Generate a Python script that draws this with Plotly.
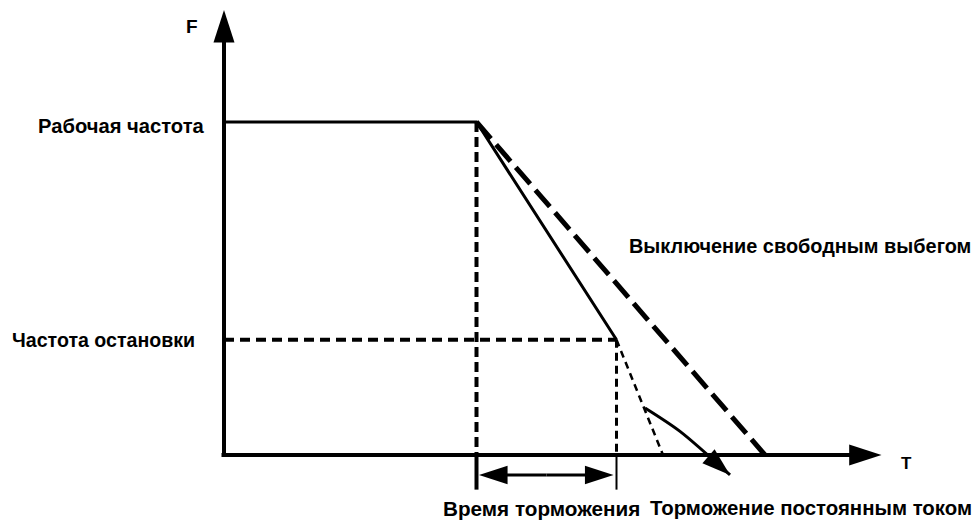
import plotly.graph_objects as go

# ---- data (schematic units: time t, frequency F) ----
F_run = 50.0          # Рабочая частота
F_stop = 17.3         # Частота остановки
t_brake = 10.1        # start of deceleration
t_stop = 15.7         # reaches stop frequency
t_coast_end = 21.64   # free-run coast reaches zero
t_extrap_end = 17.56  # extrapolated deceleration reaches zero
dc_t = [16.84, 18.24, 20.24]   # DC braking curve
dc_F = [7.06, 3.55, -3.0]
t_axis_end = 26.3
F_axis_end = 66.8
tick_below = -5.2
span_F = -3.0
span_t = [10.2, 12.9, 15.58]

labels_y = ["Рабочая частота", "Частота остановки"]
label_coast = "Выключение свободным выбегом"
label_brake_time = "Время торможения"
label_dc = "Торможение постоянным током"

FONT = "Liberation Sans, Arial, sans-serif"
BLACK = "#000000"

fig = go.Figure()

def line(x, y, width, dash="solid", arrow=None, spline=False):
    mk = dict(size=0, color=BLACK)
    mode = "lines"
    if arrow:
        mode = "lines+markers"
        n = len(x)
        mk = dict(symbol=["circle"] * (n - 1) + ["arrow"],
                  size=[0] * (n - 1) + [arrow],
                  angleref="previous", color=BLACK, opacity=1,
                  line=dict(width=0))
    fig.add_trace(go.Scatter(x=x, y=y, mode=mode,
                             line=dict(color=BLACK, width=width, dash=dash,
                                       shape="spline" if spline else "linear", smoothing=0.8),
                             marker=mk, hoverinfo="skip", showlegend=False))

# axes with arrows
line([0, 0], [-0.3, F_axis_end], 4, arrow=34)
line([-0.1, t_axis_end], [0, 0], 4, arrow=34)

# running profile
line([0, t_brake, t_stop], [F_run, F_run, F_stop], 3)

# guides
line([t_brake, t_brake], [F_run, 0], 4, dash="10px,5px")
line([t_brake, t_brake], [0, tick_below], 4)
line([0, t_stop], [F_stop, F_stop], 4, dash="10px,6px")
line([t_stop, t_stop], [F_stop, 0], 3, dash="8px,5px")
line([t_stop, t_stop], [0, tick_below], 2)

# extrapolated deceleration
line([t_stop, t_extrap_end], [F_stop, 0], 2.5, dash="7px,5px")

# coast stop
line([t_brake, t_coast_end], [F_run, 0], 5, dash="22px,8px")

# DC braking
line(dc_t, dc_F, 3, arrow=30, spline=True)

# braking time span (double arrow)
line([span_t[1], span_t[0]], [span_F, span_F], 3, arrow=30)
line([span_t[1], span_t[2]], [span_F, span_F], 3, arrow=30)

# texts
ann = [
    dict(x=-0.68, y=49.4, text=labels_y[0], xanchor="right", size=20.2),
    dict(x=-1.08, y=F_stop, text=labels_y[1], xanchor="right", size=19.6),
    dict(x=-1.28, y=64.3, text="F", xanchor="center", size=19),
    dict(x=27.3, y=-1.2, text="T", xanchor="center", size=17),
    dict(x=16.1, y=31.4, text=label_coast, xanchor="left", size=19.9),
    dict(x=12.68, y=-7.96, text=label_brake_time, xanchor="center", size=20.7),
    dict(x=16.96, y=-7.96, text=label_dc, xanchor="left", size=20.4),
]
for a in ann:
    fig.add_annotation(x=a["x"], y=a["y"], text="<b>%s</b>" % a["text"], showarrow=False,
                       xanchor=a["xanchor"], yanchor="middle",
                       font=dict(family=FONT, size=a["size"], color=BLACK))

fig.update_layout(
    width=976, height=524, autosize=False,
    margin=dict(l=0, r=0, t=0, b=0),
    paper_bgcolor="white", plot_bgcolor="white",
    xaxis=dict(range=[-8.96, 30.08], visible=False, fixedrange=True),
    yaxis=dict(range=[-10.36, 68.32], visible=False, fixedrange=True),
)

fig.write_html("out.html", config={"displayModeBar": False},
               post_script="document.body.style.margin='0';document.body.style.overflow='hidden';")
